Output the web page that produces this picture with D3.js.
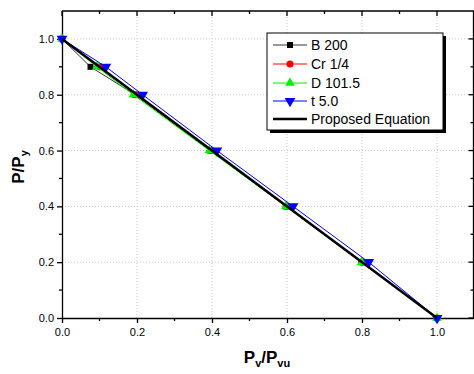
<!DOCTYPE html>
<html>
<head>
<meta charset="utf-8">
<script src="https://cdn.jsdelivr.net/npm/d3@7"></script>
<style>
  body { margin: 0; background: #fff; }
  text { font-family: Arial, "Liberation Sans", sans-serif; }
</style>
</head>
<body>
<div id="chart"></div>
<script>
// data
var bX  = [0, 0.076, 0.195, 0.395, 0.597, 0.798, 1.0];
var bY  = [1.0, 0.9, 0.8, 0.6, 0.4, 0.2, 0.0];
var crX = [0, 0.101, 0.196, 0.397, 0.598, 0.8, 1.0];
var crY = [1.0, 0.9, 0.8, 0.6, 0.4, 0.2, 0.0];
var dX  = [0, 0.093, 0.19, 0.393, 0.597, 0.799, 1.0];
var dY  = [1.0, 0.9, 0.8, 0.6, 0.4, 0.2, 0.0];
var tX  = [0, 0.117, 0.215, 0.413, 0.616, 0.818, 1.0];
var tY  = [1.0, 0.9, 0.8, 0.6, 0.4, 0.2, 0.0];
var eqX = [0, 1];
var eqY = [1, 0];
var ticks = [0, 0.2, 0.4, 0.6, 0.8, 1.0];
var minorTicks = [0.1, 0.3, 0.5, 0.7, 0.9];

var width = 474, height = 374;

var svg = d3.select("#chart").append("svg")
  .attr("width", width)
  .attr("height", height);

var x = d3.scaleLinear().domain([0, 1.1]).range([62, 474.5]);
var y = d3.scaleLinear().domain([0, 1.1]).range([318, 11]);

// grid
svg.append("g").selectAll("line.gx")
  .data(ticks.filter(d => d > 0))
  .enter().append("line")
  .attr("x1", d => x(d)).attr("x2", d => x(d))
  .attr("y1", y(0)).attr("y2", y(1.1))
  .attr("stroke", "#c8c8c8").attr("stroke-dasharray", "1,2");
svg.append("g").selectAll("line.gy")
  .data(ticks.filter(d => d > 0))
  .enter().append("line")
  .attr("x1", x(0)).attr("x2", x(1.1))
  .attr("y1", d => y(d)).attr("y2", d => y(d))
  .attr("stroke", "#c8c8c8").attr("stroke-dasharray", "1,2");

// axes
var fmt = d3.format(".1f");
var xAxis = d3.axisBottom(x).tickValues(ticks).tickFormat(fmt).tickSize(5).tickSizeOuter(0);
var yAxis = d3.axisLeft(y).tickValues(ticks).tickFormat(fmt).tickSize(5).tickSizeOuter(0);

function styleAxis(g) {
  g.select(".domain").attr("stroke", "#000").attr("stroke-width", 1.3);
  g.selectAll(".tick line").attr("stroke", "#000").attr("stroke-width", 1.3);
  g.selectAll("text").style("font-size", "11px").attr("fill", "#000");
}

svg.append("g").attr("transform", `translate(0,${y(0)})`).call(xAxis).call(styleAxis)
  .selectAll("text").attr("dy", "0.9em");
svg.append("g").attr("transform", `translate(${x(0)},0)`).call(yAxis).call(styleAxis);

// minor ticks
svg.append("g").selectAll("line")
  .data(minorTicks).enter().append("line")
  .attr("x1", d => x(d)).attr("x2", d => x(d))
  .attr("y1", y(0)).attr("y2", y(0) + 3).attr("stroke", "#000").attr("stroke-width", 1.3);
svg.append("g").selectAll("line")
  .data(minorTicks).enter().append("line")
  .attr("x1", x(0)).attr("x2", x(0) - 3)
  .attr("y1", d => y(d)).attr("y2", d => y(d)).attr("stroke", "#000").attr("stroke-width", 1.3);

// top and right frame with inward ticks
svg.append("line").attr("x1", x(0)).attr("x2", x(1.1)).attr("y1", y(1.1)).attr("y2", y(1.1))
  .attr("stroke", "#000").attr("stroke-width", 1.3);
svg.append("line").attr("x1", x(1.1) - 1).attr("x2", x(1.1) - 1).attr("y1", y(1.1)).attr("y2", y(0))
  .attr("stroke", "#000").attr("stroke-width", 1.3);
svg.append("g").selectAll("line")
  .data(ticks.concat(minorTicks)).enter().append("line")
  .attr("x1", d => x(d)).attr("x2", d => x(d))
  .attr("y1", y(1.1)).attr("y2", d => y(1.1) + (ticks.includes(d) ? 5 : 3))
  .attr("stroke", "#000").attr("stroke-width", 1.3);
svg.append("g").selectAll("line")
  .data(ticks.concat(minorTicks)).enter().append("line")
  .attr("x1", x(1.1) - 1).attr("x2", d => x(1.1) - 1 - (ticks.includes(d) ? 5 : 3))
  .attr("y1", d => y(d)).attr("y2", d => y(d))
  .attr("stroke", "#000").attr("stroke-width", 1.3);

// series
var series = [
  {name: "B 200", xs: bX, ys: bY, color: "#000000", line: "#333", sym: d3.symbolSquare, size: 36},
  {name: "Cr 1/4", xs: crX, ys: crY, color: "#ff0000", line: "#ff0000", sym: d3.symbolCircle, size: 40},
  {name: "D 101.5", xs: dX, ys: dY, color: "#00ee00", line: "#00ee00", sym: d3.symbolTriangle, size: 40},
  {name: "t 5.0", xs: tX, ys: tY, color: "#0000ff", line: "#0000ff", sym: d3.symbolTriangle, size: 50, flip: true}
];

var line = d3.line().x(d => x(d[0])).y(d => y(d[1]));

series.forEach(s => {
  var pts = s.xs.map((v, i) => [v, s.ys[i]]);
  svg.append("path").attr("d", line(pts)).attr("fill", "none")
    .attr("stroke", s.line).attr("stroke-width", 1);
  svg.append("g").selectAll("path")
    .data(pts).enter().append("path")
    .attr("d", d3.symbol().type(s.sym).size(s.size))
    .attr("transform", d => `translate(${x(d[0])},${y(d[1])})` + (s.flip ? " rotate(180)" : ""))
    .attr("fill", s.color);
});

svg.append("path")
  .attr("d", line(eqX.map((v, i) => [v, eqY[i]])))
  .attr("fill", "none").attr("stroke", "#000").attr("stroke-width", 2.5);

// legend
var lg = svg.append("g");
lg.append("rect").attr("x", 270).attr("y", 36).attr("width", 176).attr("height", 97).attr("fill", "#000");
lg.append("rect").attr("x", 267).attr("y", 33).attr("width", 176).attr("height", 97)
  .attr("fill", "#fff").attr("stroke", "#000").attr("stroke-width", 1);

var legendItems = series.concat([{name: "Proposed Equation", line: "#000", eq: true}]);
var rowY = [45, 64, 83, 101, 119];
legendItems.forEach((s, i) => {
  var yy = rowY[i];
  lg.append("line").attr("x1", 273).attr("x2", 307).attr("y1", yy).attr("y2", yy)
    .attr("stroke", s.line).attr("stroke-width", s.eq ? 2.5 : 1);
  if (!s.eq) {
    lg.append("path").attr("d", d3.symbol().type(s.sym).size(s.size))
      .attr("transform", `translate(290,${yy})` + (s.flip ? " rotate(180)" : ""))
      .attr("fill", s.color);
  }
  lg.append("text").attr("x", 311).attr("y", yy).attr("dy", "0.35em")
    .style("font-size", "14px").text(s.name);
});

// axis titles
var xt = svg.append("text").attr("x", 267).attr("y", 363).attr("text-anchor", "middle")
  .style("font-size", "17px").style("font-weight", "bold");
xt.append("tspan").text("P");
xt.append("tspan").attr("dy", 4).style("font-size", "11px").text("v");
xt.append("tspan").attr("dy", -4).text("/P");
xt.append("tspan").attr("dy", 4).style("font-size", "11px").text("vu");

var yt = svg.append("text").attr("transform", "translate(24,167) rotate(-90)")
  .attr("text-anchor", "middle").style("font-size", "17px").style("font-weight", "bold");
yt.append("tspan").text("P/P");
yt.append("tspan").attr("dy", 4).style("font-size", "11px").text("y");
</script>
</body>
</html>
